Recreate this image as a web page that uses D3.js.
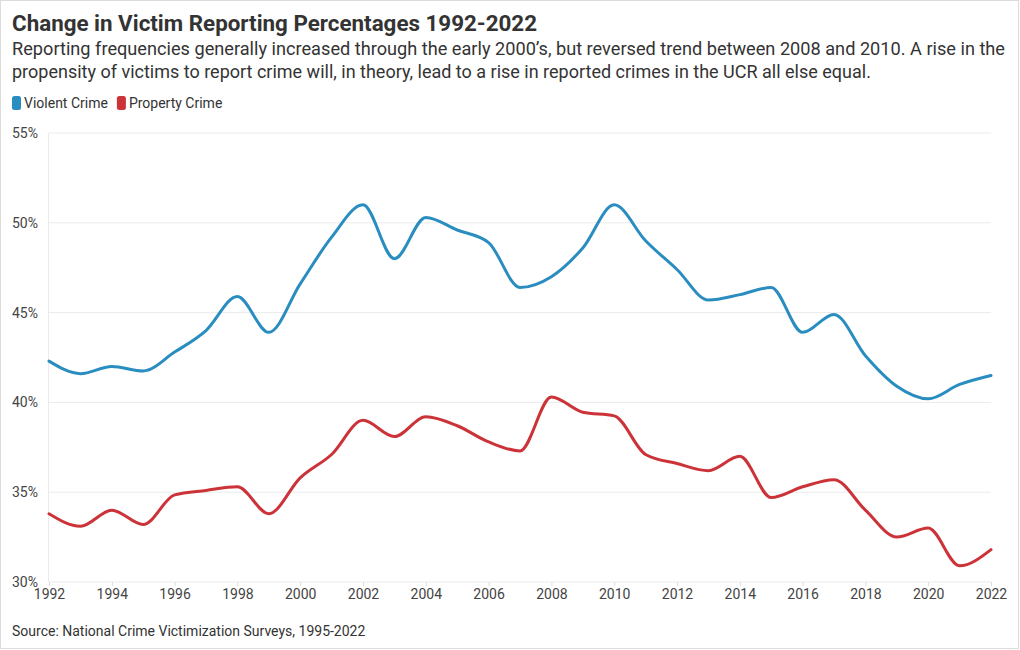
<!DOCTYPE html>
<html><head><meta charset="utf-8">
<script src="https://cdn.jsdelivr.net/npm/d3@7"></script>
<style>
body{margin:0;background:#fff;font-family:Roboto,"Noto Sans",sans-serif;}
</style></head>
<body><svg id="c" width="1020" height="650"></svg>
<script>
const years = d3.range(1992, 2023);
const violent = [42.3,41.6,42.0,41.75,42.8,44.0,45.9,43.9,46.6,49.2,51.0,48.0,50.3,49.6,48.9,46.4,47.0,48.6,51.0,49.0,47.4,45.7,46.0,46.4,43.9,44.9,42.6,40.9,40.2,41.0,41.5];
const property = [33.8,33.1,34.0,33.2,34.85,35.1,35.3,33.8,35.8,37.1,39.0,38.1,39.2,38.7,37.8,37.3,40.3,39.45,39.25,37.1,36.6,36.2,37.0,34.7,35.3,35.7,34.0,32.5,33.0,30.9,31.8];
const yTicks = [30,35,40,45,50,55];
const xTicks = d3.range(1992, 2023, 2);
const seriesNames = ["Violent Crime","Property Crime"];
const colors = ["#2a8dc0","#cc3339"];

const svg = d3.select("#c");
svg.append("rect").attr("x",0.5).attr("y",0.5).attr("width",1018).attr("height",648)
  .attr("fill","#fff").attr("stroke","#dcdcdc");

const title = svg.append("text").attr("x",12).attr("y",31).attr("font-size",22).attr("font-weight",700)
  .attr("fill","#333").text("Change in Victim Reporting Percentages 1992-2022");
const s1 = svg.append("text").attr("x",12).attr("y",55).attr("font-size",18).attr("fill","#333")
  .text("Reporting frequencies generally increased through the early 2000’s, but reversed trend between 2008 and 2010. A rise in the");
svg.append("text").attr("x",12).attr("y",78).attr("font-size",18).attr("fill","#333")
  .text("propensity of victims to report crime will, in theory, lead to a rise in reported crimes in the UCR all else equal.");
// fit widths to reference
const tw = title.node().getComputedTextLength();
if (Math.abs(tw-525)>4) title.attr("textLength",525).attr("lengthAdjust","spacingAndGlyphs");
const sw = s1.node().getComputedTextLength();
if (Math.abs(sw-993)>6) s1.attr("textLength",993).attr("lengthAdjust","spacingAndGlyphs");

// legend
let lx = 12;
seriesNames.forEach((n,i)=>{
  svg.append("rect").attr("x",lx).attr("y",96).attr("width",9).attr("height",14).attr("rx",2.5).attr("fill",colors[i]);
  const t = svg.append("text").attr("x",lx+12).attr("y",108).attr("font-size",14).attr("fill","#333").text(n);
  lx += 12 + t.node().getComputedTextLength() + 9;
});

const x = d3.scaleLinear().domain([1992,2022]).range([49,991]);
const y = d3.scaleLinear().domain([30,55]).range([582,133]);

const g = svg.append("g");
g.selectAll(".gl").data(yTicks).join("line")
  .attr("x1",49).attr("x2",991).attr("y1",d=>y(d)).attr("y2",d=>y(d))
  .attr("stroke","#ebebeb").attr("stroke-width",1);
g.append("line").attr("x1",48.5).attr("x2",48.5).attr("y1",133).attr("y2",582).attr("stroke","#ebebeb");

g.selectAll(".yl").data(yTicks).join("text")
  .attr("x",38).attr("y",d=>y(d)+5).attr("text-anchor","end")
  .attr("font-size",14).attr("fill","#444").text(d=>d+"%");

const xa = svg.append("g").attr("transform","translate(0,582)")
  .call(d3.axisBottom(x).tickValues(xTicks).tickFormat(d3.format("d")).tickSize(4).tickPadding(3));
xa.select(".domain").remove();
xa.selectAll("line").attr("stroke","#ddd");
xa.selectAll("text").attr("font-size",14).attr("fill","#444").attr("font-family","Roboto,sans-serif");

const line = d3.line().x((d,i)=>x(years[i])).y(d=>y(d)).curve(d3.curveMonotoneX);
[violent, property].forEach((s,i)=>{
  svg.append("path").attr("d",line(s)).attr("fill","none").attr("stroke",colors[i])
    .attr("stroke-width",3).attr("stroke-linejoin","round").attr("stroke-linecap","round");
});

svg.append("text").attr("x",12).attr("y",636).attr("font-size",14).attr("fill","#333")
  .text("Source: National Crime Victimization Surveys, 1995-2022");
</script></body></html>
